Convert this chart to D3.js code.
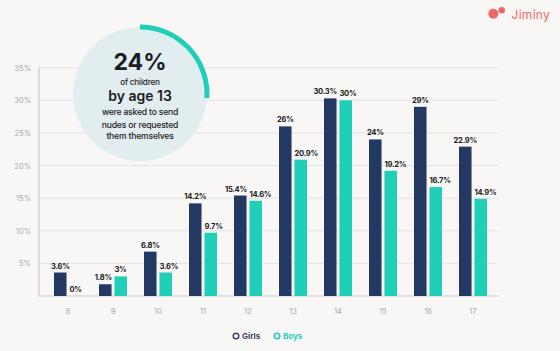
<!DOCTYPE html>
<html>
<head>
<meta charset="utf-8">
<script src="https://cdn.jsdelivr.net/npm/d3@7"></script>
<style>
  html, body { margin: 0; padding: 0; background: #f8f7f6; }
  svg { display: block; font-family: Inter, 'Noto Sans', sans-serif; }
</style>
</head>
<body>
<div id="chart"></div>
<script>
const ages= ['8', '9', '10', '11', '12', '13', '14', '15', '16', '17'];
const girls= [3.6, 1.8, 6.8, 14.2, 15.4, 26, 30.3, 24, 29, 22.9];
const boys= [0, 3, 3.6, 9.7, 14.6, 20.9, 30, 19.2, 16.7, 14.9];
const girlLabels= ['3.6%', '1.8%', '6.8%', '14.2%', '15.4%', '26%', '30.3%', '24%', '29%', '22.9%'];
const boyLabels= ['0%', '3%', '3.6%', '9.7%', '14.6%', '20.9%', '30%', '19.2%', '16.7%', '14.9%'];
const yTicks= [5, 10, 15, 20, 25, 30, 35];
const seriesNames= ['Girls', 'Boys'];
const calloutLines= ['of children', 'by age 13', 'were asked to send', 'nudes or requested', 'them themselves'];
const calloutValue= '24%';
const calloutArc= 0.26;

const W= 560, H= 351;
const COL= { Girls: '#233862', Boys: '#1fcfb8' };

const svg= d3.select('#chart').append('svg')
  .attr('width', W).attr('height', H);

svg.append('rect').attr('width', W).attr('height', H).attr('fill', '#f8f7f6');

const yS= d3.scaleLinear().domain([0, 35]).range([296, 67.7]);
const x0= d3.scaleBand().domain(ages).range([45.5, 495.5])
  .paddingInner(0.378).paddingOuter(0.189);
const x1= d3.scaleBand().domain(seriesNames).range([0, x0.bandwidth()]).paddingInner(0.19);

// gridlines
svg.append('g').selectAll('line').data(yTicks).join('line')
  .attr('x1', 39).attr('x2', 498)
  .attr('y1', d => yS(d)).attr('y2', d => yS(d))
  .attr('stroke', '#e2e2e4').attr('stroke-width', 1);

// y tick labels
svg.append('g').selectAll('text').data(yTicks).join('text')
  .attr('x', 31).attr('y', d => yS(d)+3)
  .attr('text-anchor', 'end')
  .attr('font-size', 7.5)
  .attr('fill', '#a9a9b0')
  .text(d => d+'%');

// axes lines
svg.append('line').attr('x1', 39).attr('x2', 39).attr('y1', yS(35)).attr('y2', yS(0))
  .attr('stroke', '#c9c9ce').attr('stroke-width', 1.2);
svg.append('line').attr('x1', 39).attr('x2', 498).attr('y1', yS(0)).attr('y2', yS(0))
  .attr('stroke', '#c9c9ce').attr('stroke-width', 1.2);

const rows= ages.map((a, i) => ({ age: a, vals: [
  { s: 'Girls', v: girls[i], lab: girlLabels[i] },
  { s: 'Boys', v: boys[i], lab: boyLabels[i] },
] }));

const grp= svg.append('g').selectAll('g').data(rows).join('g')
  .attr('transform', d => `translate(${x0(d.age)},0)`);

grp.selectAll('rect').data(d => d.vals).join('rect')
  .attr('x', d => x1(d.s))
  .attr('y', d => yS(d.v))
  .attr('width', x1.bandwidth())
  .attr('height', d => yS(0)-yS(d.v))
  .attr('fill', d => COL[d.s]);

grp.each(function(row) {
  const g= d3.select(this);
  const [gv, bv]= row.vals;
  const bx= x1('Boys');
  // boys label starts at the bar's left edge
  g.append('text')
    .attr('x', bx).attr('y', yS(bv.v)-4)
    .attr('class', 'vlab')
    .text(bv.lab);
  // girls label centred, pushed left when it would run into the boys label
  const t= g.append('text')
    .attr('x', x1('Girls')+x1.bandwidth()/2).attr('y', yS(gv.v)-4)
    .attr('class', 'vlab')
    .attr('text-anchor', 'middle')
    .text(gv.lab);
  const w= t.node().getComputedTextLength();
  const cxG= x1('Girls')+x1.bandwidth()/2;
  if (Math.abs(yS(gv.v)-yS(bv.v)) < 12 && cxG+w/2 > bx-2.5) {
    t.attr('text-anchor', 'end').attr('x', bx-2.5);
  }
});
svg.selectAll('.vlab')
  .attr('font-size', 7.6)
  .attr('font-weight', 700)
  .attr('fill', '#222')
  .attr('letter-spacing', -0.25);

// x tick labels
svg.append('g').selectAll('text').data(ages).join('text')
  .attr('x', d => x0(d)+x0.bandwidth()/2)
  .attr('y', 314)
  .attr('text-anchor', 'middle')
  .attr('font-size', 7.5)
  .attr('fill', '#a9a9b0')
  .text(d => d);

// legend
const leg= svg.append('g').selectAll('g').data(seriesNames).join('g')
  .attr('transform', (d, i) => `translate(${236+i*41},336)`);
leg.append('circle').attr('r', 2.8).attr('fill', 'none')
  .attr('stroke', d => d === 'Girls' ? '#3b4663' : COL.Boys).attr('stroke-width', 1.5);
leg.append('text').attr('x', 6).attr('y', 3)
  .attr('font-size', 8).attr('font-weight', 700)
  .attr('fill', d => d === 'Girls' ? '#3b4663' : COL.Boys)
  .text(d => d);

// callout circle
const cx= 140, cy= 94, r= 67;
const call= svg.append('g').attr('transform', `translate(${cx},${cy})`);
call.append('circle').attr('r', r).attr('fill', '#e1edef');
call.append('path')
  .attr('d', d3.arc().innerRadius(r-2.5).outerRadius(r+2.5)
    .startAngle(0).endAngle(calloutArc*2*Math.PI)())
  .attr('fill', '#1fcfb8');
call.append('text').attr('y', -24).attr('text-anchor', 'middle')
  .attr('font-size', 23).attr('font-weight', 700).attr('fill', '#1c1c24')
  .text(calloutValue);
const lineY= [-9, 6.5, 21, 33.5, 45];
const lineSz= [8.2, 14, 8.6, 8.6, 8.6];
const lineW= [500, 600, 500, 500, 500];
calloutLines.forEach((t, i) => {
  call.append('text').attr('y', lineY[i]).attr('text-anchor', 'middle')
    .attr('font-size', lineSz[i]).attr('font-weight', lineW[i])
    .attr('fill', '#1c1c24')
    .attr('letter-spacing', i === 1 ? 0 : -0.2)
    .text(t);
});

// logo
svg.append('circle').attr('cx', 493.3).attr('cy', 13.8).attr('r', 5).attr('fill', '#ee6a6a');
svg.append('circle').attr('cx', 501.7).attr('cy', 10.3).attr('r', 3.3).attr('fill', '#ee6a6a');
svg.append('text').attr('x', 511.5).attr('y', 18.5)
  .attr('font-size', 12).attr('fill', '#ee6a6a').attr('letter-spacing', 0.3)
  .text('Jiminy');
</script>
</body>
</html>
